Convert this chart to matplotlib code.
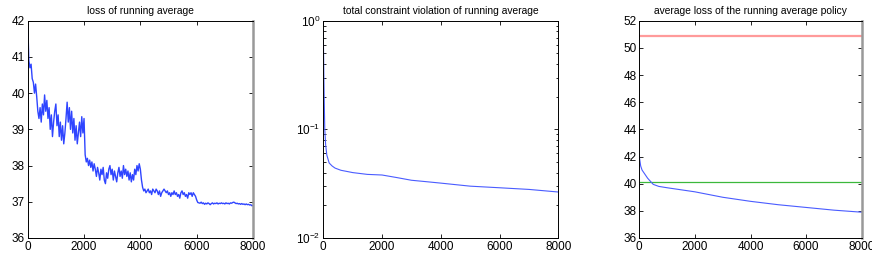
import numpy as np
import matplotlib
matplotlib.use("Agg")
import matplotlib.pyplot as plt
from matplotlib.ticker import LogLocator, NullFormatter

plt.rcParams['font.family'] = ['Liberation Sans', 'DejaVu Sans']

# ---- data ----
loss_a = [42.0, 40.9, 40.7, 40.8, 40.4, 40.3, 40.0, 40.25, 39.9, 39.5,
          39.3, 39.6, 39.2, 39.7, 39.4, 39.95, 39.5, 39.8, 39.3, 39.6,
          39.0, 39.4, 38.8, 39.2, 39.5, 39.7, 39.1, 39.4, 38.8, 39.2,
          38.7, 39.1, 38.6, 38.9, 39.3, 39.75, 39.2, 39.6, 39.0, 39.5,
          38.9, 39.3, 38.7, 39.1, 38.6, 38.9, 39.2, 38.8, 39.35, 38.9]
loss_b = [39.3, 38.3, 38.1, 38.2, 38.0, 38.15, 37.95, 38.1, 37.85, 38.05,
          37.9, 37.7, 37.95, 37.8, 37.6, 37.9, 37.75, 37.95, 37.6, 37.5,
          37.8, 37.65, 37.9, 38.0, 37.75, 37.9, 37.6, 37.85, 37.7, 37.55,
          37.8, 37.95, 37.7, 37.85, 37.65, 38.0, 37.75, 37.9, 37.7, 37.85,
          37.6, 37.8, 37.55, 37.75, 37.6, 37.9, 37.75, 38.0, 37.85, 38.05]
loss_c = [37.9, 37.6, 37.4, 37.3, 37.35, 37.25, 37.3, 37.35, 37.25, 37.3,
          37.2, 37.35, 37.3, 37.25, 37.35, 37.3, 37.2, 37.3, 37.15, 37.25,
          37.3, 37.35, 37.3, 37.25, 37.3, 37.2, 37.25, 37.15, 37.25, 37.2,
          37.3, 37.2, 37.25, 37.15, 37.2, 37.1, 37.25, 37.3, 37.2, 37.25,
          37.15, 37.2, 37.1, 37.25, 37.2, 37.25, 37.15, 37.25, 37.2, 37.15]
loss_d = [37.05, 36.98, 36.97, 36.96, 36.99, 36.95, 36.97, 36.93, 36.96, 36.94,
          36.97, 36.95, 36.92, 36.95, 36.97, 36.94, 36.96, 36.95, 36.97, 36.94,
          36.96, 36.95, 36.97, 36.95, 36.96, 36.94, 36.97, 36.95, 36.96, 36.94,
          36.97, 36.96, 36.98, 36.99, 36.97, 36.95, 36.96, 36.94, 36.95, 36.93,
          36.95, 36.93, 36.94, 36.92, 36.94, 36.92, 36.93, 36.91, 36.92, 36.89,
          36.9]
loss_running = loss_a + loss_b + loss_c + loss_d
iters_loss = np.linspace(0, 8000, len(loss_running))

viol_iters = [0, 10, 20, 30, 50, 80, 120, 200, 300, 400, 600, 800, 1000,
              1500, 2000, 2500, 3000, 3500, 4000, 5000, 6000, 7000, 8000]
viol_vals = [0.75, 0.5, 0.3, 0.2, 0.1, 0.072, 0.058, 0.049, 0.046, 0.044,
             0.042, 0.041, 0.040, 0.0385, 0.038, 0.036, 0.034, 0.033, 0.032,
             0.030, 0.029, 0.028, 0.0265]

avg_iters = [0, 50, 100, 200, 300, 500, 700, 1000, 1500, 2000, 2500, 3000,
             4000, 5000, 6000, 7000, 8000]
avg_vals = [42.0, 41.3, 41.0, 40.7, 40.4, 39.95, 39.8, 39.7, 39.55, 39.4,
            39.2, 39.0, 38.7, 38.45, 38.25, 38.05, 37.9]
red_level = 50.9
green_level = 40.1

titles = ["loss of running average",
          "total constraint violation of running average",
          "average loss of the running average policy"]
xticks = [0, 2000, 4000, 6000, 8000]

# ---- figure ----
W, H = 872, 269
fig = plt.figure(figsize=(W / 100, H / 100), dpi=100)

def rect(l, r, t, b):
    return [l / W, (H - b) / H, (r - l) / W, (b - t) / H]

ax1 = fig.add_axes(rect(27.7, 253, 20.7, 238))
ax2 = fig.add_axes(rect(323.3, 558.3, 20.7, 238))
ax3 = fig.add_axes(rect(639.3, 861.7, 20.7, 238))

blue = '#2f45ff'

ax1.plot(iters_loss, loss_running, color=blue, lw=1.0)
ax1.set_ylim(36, 42)
ax1.set_yticks([36, 37, 38, 39, 40, 41, 42])

ax2.semilogy(viol_iters, viol_vals, color='#4a5cff', lw=0.8)
ax2.set_ylim(1e-2, 1e0)
ax2.yaxis.set_minor_locator(LogLocator(base=10, subs=np.arange(2, 10)))
ax2.yaxis.set_minor_formatter(NullFormatter())

ax3.axhline(red_level, color='#ff9a9a', lw=1.6)
ax3.axhline(green_level, color='#3cb83c', lw=0.9)
ax3.plot(avg_iters, avg_vals, color='#4a5cff', lw=0.8)
ax3.set_ylim(36, 52)
ax3.set_yticks(list(range(36, 53, 2)))

for ax, t in zip([ax1, ax2, ax3], titles):
    ax.set_xlim(0, 8000)
    ax.set_xticks(xticks)
    ax.set_title(t, fontsize=7.4, pad=5)
    ax.tick_params(which='both', direction='in', top=True, right=True,
                   labelsize=8.5, length=3, width=0.6, pad=2)
    ax.tick_params(which='minor', length=1.8)
    for s in ax.spines.values():
        s.set_linewidth(0.7)

for ax in (ax1, ax3):
    ax.spines['right'].set_color('#999999')
    ax.spines['right'].set_linewidth(1.8)

fig.savefig('out.png', dpi=100)
